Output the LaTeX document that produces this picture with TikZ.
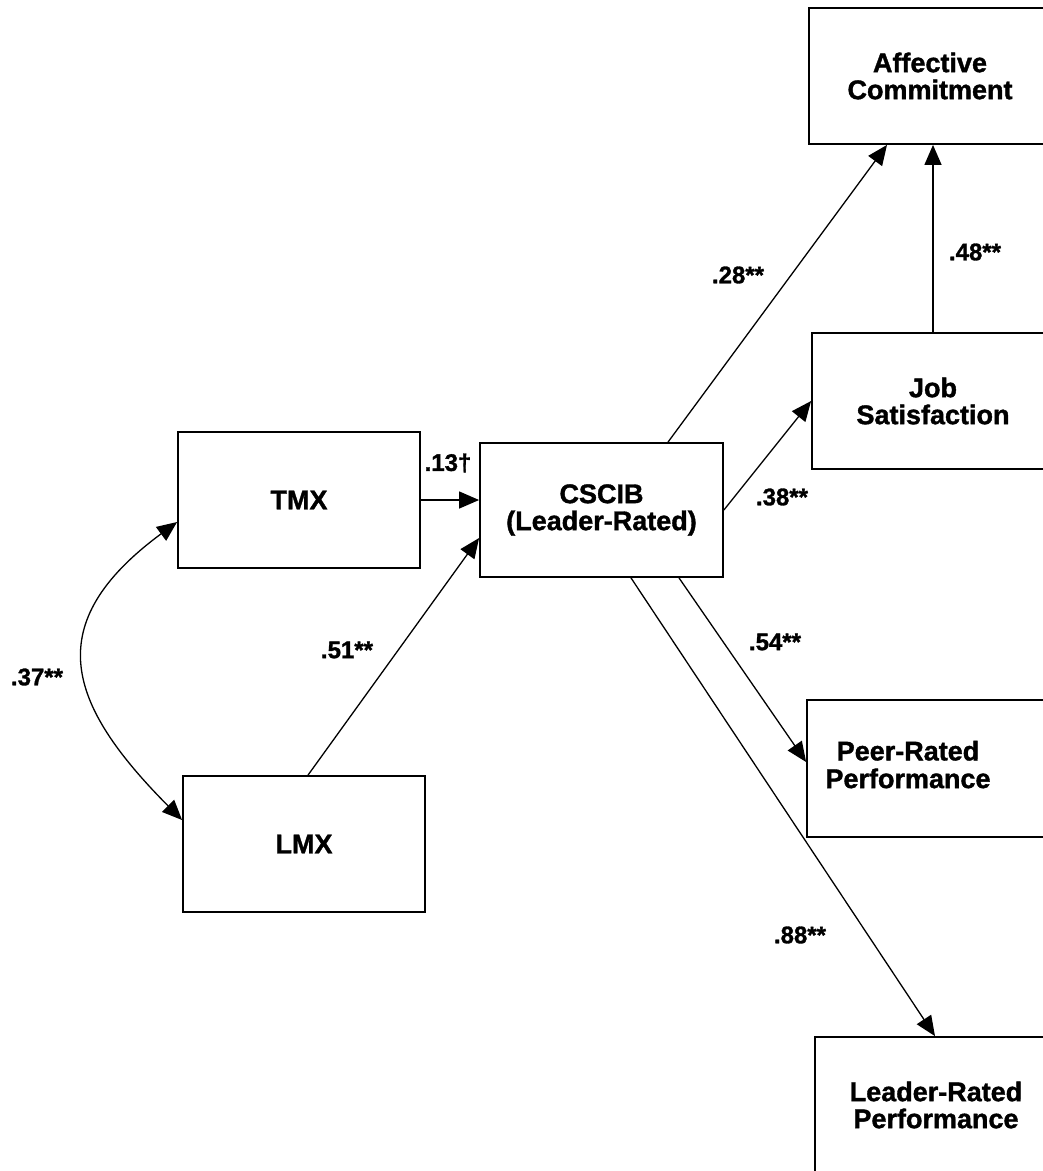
\documentclass[tikz,border=0pt]{standalone}
\usepackage{fontspec}
\setmainfont{Liberation Sans}[BoldFeatures={FakeBold=1.3}]
\usetikzlibrary{arrows.meta,calc}
\begin{document}
\begin{tikzpicture}[x=1pt,y=-1pt,
  box/.style={draw, line width=1.8pt, minimum width=242pt, minimum height=136pt, inner sep=0pt, align=center, font=\fontsize{27}{27}\selectfont\bfseries},
  lbl/.style={font=\fontsize{24}{24}\selectfont\bfseries, inner sep=0pt},
  conn/.style={line width=1.3pt, -{Triangle[length=20pt,width=17pt]}},
  biconn/.style={line width=1.3pt, {Triangle[length=20pt,width=17pt]}-{Triangle[length=20pt,width=17pt]}},
]
\path[use as bounding box] (0,0) rectangle (1043,1171);
\clip (0,0) rectangle (1043,1171);

\node[box] (ac) at (930,76) {Affective\\Commitment};
\node[box] (js) at (933,401) {Job\\Satisfaction};
\node[box] (tmx) at (299,500) {TMX};
\node[box, minimum width=243pt, minimum height=134pt] (cscib) at (601.5,510) {CSCIB\\(Leader-Rated)};
\node[box] (lmx) at (304,844) {LMX};
\node[box, minimum height=137pt] (peer) at (928,768.5) {\begin{tabular}{@{}c@{}}Peer-Rated\\Performance\end{tabular}\hspace*{40pt}};
\node[box] (lrp) at (936,1105) {Leader-Rated\\Performance};

\draw[conn] (tmx.east) -- (tmx.east -| cscib.west);
\draw[conn] ([xshift=4pt]lmx.north) -- ([yshift=-28pt]cscib.west);
\draw[biconn] ([yshift=-22pt]tmx.west) .. controls (39,624) and (67,704) .. ([yshift=24pt]lmx.west);
\draw[conn] ([xshift=66.5pt]cscib.north) -- ([xshift=-43pt]ac.south);
\draw[conn] (js.north) -- (js.north |- ac.south);
\draw[conn] (cscib.east) -- (js.west);
\draw[conn] ([xshift=77.5pt]cscib.south) -- ([yshift=6.5pt]peer.west);
\draw[conn] ([xshift=29.5pt]cscib.south) -- ([xshift=-1pt]lrp.north);

\node[lbl] (l13) at (448,463) {.13†};
\node[lbl] (l51) at (347,650) {.51**};
\node[lbl] (l37) at (37,677) {.37**};
\node[lbl] (l28) at (738,275) {.28**};
\node[lbl] (l48) at (975,252) {.48**};
\node[lbl] (l38) at (782,497) {.38**};
\node[lbl] (l54) at (775,642) {.54**};
\node[lbl] (l88) at (800,935) {.88**};
\end{tikzpicture}
\end{document}
